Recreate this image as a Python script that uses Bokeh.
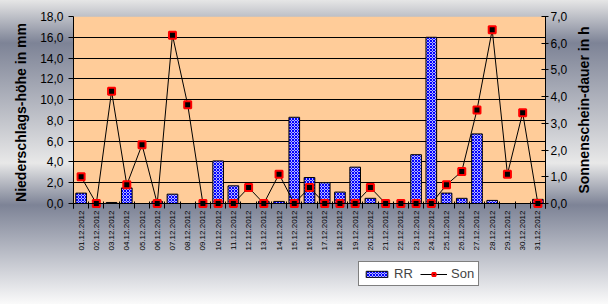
import math
from bokeh.plotting import figure
from bokeh.layouts import column, row
from bokeh.models import (Range1d, LinearAxis, FixedTicker, CustomJSTickFormatter,
                          Legend, LegendItem, ColumnDataSource, BoxAnnotation, Span, Label)
from bokeh.embed import file_html
from bokeh.resources import INLINE

dates = ["01.12.2012", "02.12.2012", "03.12.2012", "04.12.2012", "05.12.2012",
         "06.12.2012", "07.12.2012", "08.12.2012", "09.12.2012", "10.12.2012",
         "11.12.2012", "12.12.2012", "13.12.2012", "14.12.2012", "15.12.2012",
         "16.12.2012", "17.12.2012", "18.12.2012", "19.12.2012", "20.12.2012",
         "21.12.2012", "22.12.2012", "23.12.2012", "24.12.2012", "25.12.2012",
         "26.12.2012", "27.12.2012", "28.12.2012", "29.12.2012", "30.12.2012",
         "31.12.2012"]
rr = [1.0, 0.0, 0.1, 1.5, 0.0, 0.2, 0.9, 0.0, 0.0, 4.1, 1.7, 0.0, 0.2, 0.2, 8.3,
      2.5, 2.0, 1.1, 3.5, 0.5, 0.0, 0.0, 4.7, 16.0, 1.0, 0.5, 6.7, 0.3, 0.0, 0.0, 0.4]
son = [1.0, 0.0, 4.2, 0.7, 2.2, 0.0, 6.3, 3.7, 0.0, 0.0, 0.0, 0.6, 0.0, 1.1, 0.0,
       0.6, 0.0, 0.0, 0.0, 0.6, 0.0, 0.0, 0.0, 0.0, 0.7, 1.2, 3.5, 6.5, 1.1, 3.4, 0.0]
left_ticks = [0, 2, 4, 6, 8, 10, 12, 14, 16, 18]
right_ticks = [0, 1, 2, 3, 4, 5, 6, 7]
left_label = "Niederschlags-höhe in mm"
right_label = "Sonnenschein-dauer in h"
series_names = ["RR", "Son"]

n = len(dates)
x = list(range(1, n + 1))
src = ColumnDataSource(dict(x=x, rr=rr, son=son))

bar_style = dict(fill_color="#b4b4ff", line_color="black", line_width=1,
                 hatch_pattern="diagonal_cross", hatch_color="#0000ff",
                 hatch_scale=3, hatch_weight=1)
line_style = dict(line_color="black", line_width=1)
marker_style = dict(marker="square", size=7, fill_color="black", line_color="red",
                    line_width=2)

W, H = 608, 304
MAIN_W, MAIN_H = 572, 258
FR_LEFT, FR_RIGHT, FR_TOP, FR_BOTTOM = 73, 545, 16, 208

# a few pixels of room below zero so the markers on the baseline are not cut
left_max, right_max = 18.0, 7.0
pad = 0.48
p = figure(width=MAIN_W, height=MAIN_H, output_backend="svg", toolbar_location=None,
           x_range=Range1d(0.5, n + 0.5), y_range=Range1d(-pad, left_max),
           min_border_left=FR_LEFT, min_border_right=MAIN_W - FR_RIGHT,
           min_border_top=FR_TOP, min_border_bottom=MAIN_H - FR_BOTTOM)
p.frame_align = False
p.extra_y_ranges = {"son": Range1d(-pad * right_max / left_max, right_max)}
p.background_fill_alpha = 0
p.border_fill_alpha = 0
p.outline_line_color = None

plot_area = BoxAnnotation(bottom=0, fill_color="#ffcc99", fill_alpha=1,
                          line_color=None, level="image")
p.add_layout(plot_area)
baseline = Span(location=0, dimension="width", line_color="black", line_width=1)
p.add_layout(baseline)

comma = CustomJSTickFormatter(code="return tick.toFixed(1).replace('.', ',');")

# x axis
xa = p.xaxis[0]
xa.ticker = FixedTicker(ticks=x, minor_ticks=[i + 0.5 for i in range(0, n + 1)])
xa.formatter = CustomJSTickFormatter(args=dict(labels=dates),
                                     code="return labels[Math.round(tick) - 1] || '';")
xa.major_label_orientation = math.pi / 2
xa.major_tick_line_color = None
xa.major_tick_in = 0
xa.major_tick_out = 0
xa.minor_tick_line_color = "black"
xa.minor_tick_in = 7
xa.minor_tick_out = 0
xa.major_label_standoff = 2
xa.major_label_text_font = "Liberation Sans"
xa.major_label_text_font_size = "8px"
xa.major_label_text_color = "black"
xa.axis_line_color = None

# left axis
ya = p.yaxis[0]
ya.ticker = FixedTicker(ticks=left_ticks)
ya.formatter = comma
ya.minor_tick_line_color = None
ya.major_tick_in = 0
ya.major_tick_out = 5
ya.major_label_standoff = 5
ya.major_label_text_font = "Liberation Sans"
ya.major_label_text_font_size = "12px"
ya.major_label_text_color = "black"
ya.axis_label = left_label
ya.axis_label_text_font = "Liberation Sans"
ya.axis_label_text_font_size = "14px"
ya.axis_label_text_font_style = "bold"
ya.axis_label_text_color = "black"
ya.axis_label_standoff = 8
ya.axis_line_color = "black"

# right axis (its title is drawn in the strip to the right, reading upwards)
ra = LinearAxis(y_range_name="son", ticker=FixedTicker(ticks=right_ticks), formatter=comma)
ra.minor_tick_line_color = None
ra.major_tick_in = 4
ra.major_tick_out = 3
ra.major_label_standoff = 2
ra.major_label_text_font = "Liberation Sans"
ra.major_label_text_font_size = "12px"
ra.major_label_text_color = "black"
ra.axis_line_color = "black"
p.add_layout(ra, "right")

p.xgrid.visible = False
p.ygrid.ticker = FixedTicker(ticks=left_ticks)
p.ygrid.grid_line_color = "black"
p.ygrid.grid_line_alpha = 1
p.ygrid.grid_line_width = 1

bars = p.vbar(x="x", top="rr", bottom=0, width=0.7, source=src, **bar_style)
ln = p.line("x", "son", source=src, y_range_name="son", **line_style)
mk = p.scatter("x", "son", source=src, y_range_name="son", **marker_style)


def strip(width, height):
    f = figure(width=width, height=height, output_backend="svg", toolbar_location=None,
               x_range=Range1d(0, width), y_range=Range1d(0, height),
               x_axis_type=None, y_axis_type=None,
               min_border_left=0, min_border_right=0, min_border_top=0,
               min_border_bottom=0)
    f.frame_align = False
    f.background_fill_alpha = 0
    f.border_fill_alpha = 0
    f.outline_line_color = None
    f.grid.visible = False
    return f


# right strip with the right axis title
r = strip(W - MAIN_W, MAIN_H)
r.add_layout(Label(x=583 - MAIN_W, y=MAIN_H - (FR_TOP + (FR_BOTTOM - 5)) / 2,
                   x_units="screen", y_units="screen", text=right_label,
                   angle=math.pi / 2, text_align="center", text_baseline="middle",
                   text_font="Liberation Sans", text_font_size="14px",
                   text_font_style="bold", text_color="black"))

# legend strip below the chart (its own frame, so the legend is not clipped);
# its key renderers share the data, but the strip's ranges show none of it
q = strip(W, H - MAIN_H)
q.x_range = Range1d(-5000, -5000 + W)
q.y_range = Range1d(-5000, -5000 + (H - MAIN_H))
kb = q.vbar(x="x", top="rr", bottom=0, width=0.7, source=src, **bar_style)
kl = q.line("x", "son", source=src, **line_style)
km = q.scatter("x", "son", source=src, **marker_style)

legend = Legend(items=[LegendItem(label=series_names[0], renderers=[kb]),
                       LegendItem(label=series_names[1], renderers=[kl, km])],
                location=(358, 18), orientation="horizontal")
legend.background_fill_color = "white"
legend.background_fill_alpha = 1
legend.border_line_color = "black"
legend.border_line_width = 1
legend.label_text_font = "Liberation Sans"
legend.label_text_font_size = "13px"
legend.glyph_width = 27
legend.glyph_height = 8
legend.label_height = 14
legend.padding = 4
legend.spacing = 6
legend.label_standoff = 4
legend.margin = 0
q.add_layout(legend)

layout = column(row(p, r, spacing=0), q, spacing=0,
                styles={"background": "linear-gradient(to bottom, #e6e6e6 0px, "
                        "#7d8396 43px, #e8e8e8 163px, #7d8396 205px, #fafafa 304px)"})

open("out.html", "w").write(file_html(layout, INLINE))
